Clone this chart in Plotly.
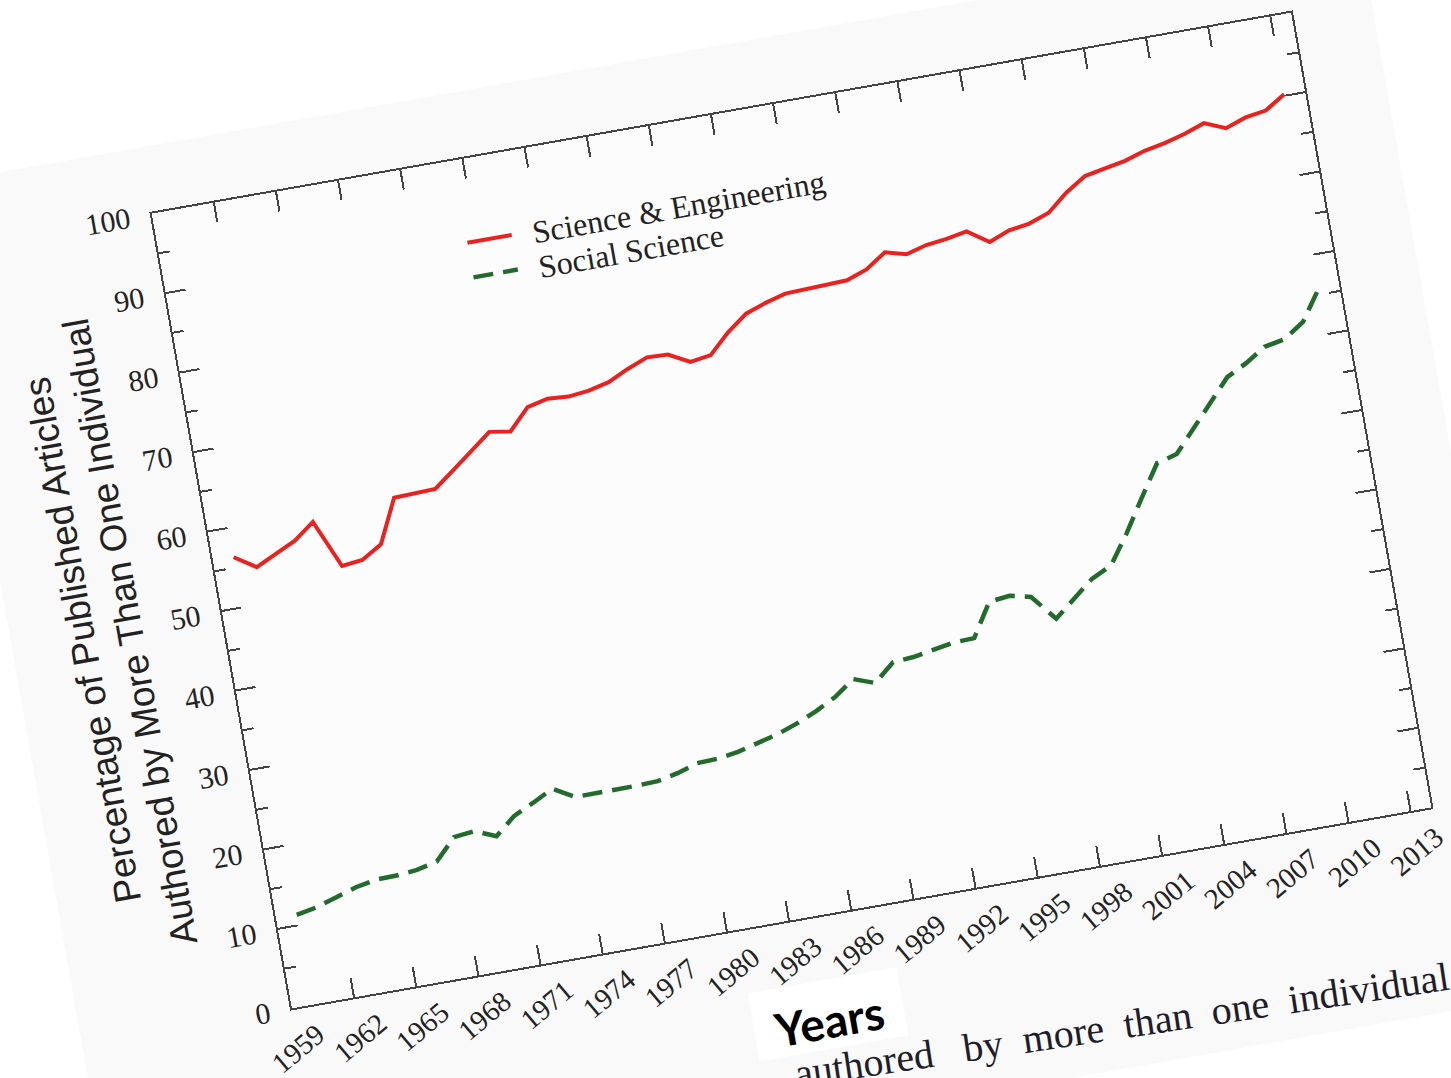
import plotly.graph_objects as go

# ---------------- data ----------------
years = [1960, 1961, 1962, 1963, 1964, 1965, 1966, 1967, 1968, 1969,
         1970, 1971, 1972, 1973, 1974, 1975, 1976, 1977, 1978, 1979,
         1980, 1981, 1982, 1983, 1984, 1985, 1986, 1987, 1988, 1989,
         1990, 1991, 1992, 1993, 1994, 1995, 1996, 1997, 1998, 1999,
         2000, 2001, 2002, 2003, 2004, 2005, 2006, 2007, 2008, 2009,
         2010, 2011, 2012, 2013]

science_engineering = [56.3, 54.6, 55.8, 57.0, 58.9, 52.9, 53.2, 54.7, 60.1, 60.2,
                       60.3, 62.2, 64.2, 66.1, 65.7, 68.3, 68.9, 68.7, 69.0, 69.6,
                       70.8, 71.8, 71.7, 70.3, 70.7, 73.1, 75.0, 75.9, 76.6, 76.7,
                       76.8, 76.9, 77.8, 79.5, 78.8, 79.5, 79.8, 80.3, 78.5, 79.5,
                       79.9, 80.8, 82.9, 84.5, 85.0, 85.5, 86.3, 86.8, 87.5, 88.4,
                       87.3, 88.2, 88.6, 90.2]

social_science = [11.3, 11.8, 12.6, 13.4, 13.9, 13.95, 14.2, 14.8, 17.4, 17.7,
                  16.6, 18.7, 19.9, 21.2, 19.7, 19.7, 19.7, 19.75, 19.85, 20.4,
                  21.2, 21.3, 21.7, 22.4, 23.0, 23.9, 25.0, 26.3, 28.1, 27.15,
                  29.3, 29.5, 29.9, 30.4, 30.5, 34.6, 34.9, 34.3, 31.1, 33.2,
                  35.2, 36.4, 40.0, 44.0, 47.9, 48.6, 51.4, 54.1, 56.9, 58.2,
                  59.8, 60.3, 62.0, 65.7]

series_names = ["Science & Engineering", "Social Science"]
x_tick_values = [1959, 1962, 1965, 1968, 1971, 1974, 1977, 1980, 1983, 1986,
                 1989, 1992, 1995, 1998, 2001, 2004, 2007, 2010, 2013]
y_tick_values = [0, 10, 20, 30, 40, 50, 60, 70, 80, 90, 100]

y_title = "Percentage of Published Articles<br>Authored by More Than One Individual"
x_box_label = "Years"
NB = "\u00a0"
caption = ("authored" + NB * 3 + "by" + NB * 2 + "more" + NB * 2 + "than"
           + NB * 2 + "one" + NB * 2 + "individual")

# ---------------- styling ----------------
RED = "#e8231f"
GREEN = "#236a2d"
AXIS = "#444444"
TXT = "#222222"
SERIF = "Liberation Serif, Times New Roman, serif"
SANS = "Liberation Sans, Arial, sans-serif"

fig = go.Figure()
fig.add_trace(go.Scatter(
    x=years, y=science_engineering, mode="lines",
    name=NB * 2 + series_names[0],
    line=dict(color=RED, width=4), legend="legend"))
fig.add_trace(go.Scatter(
    x=years, y=social_science, mode="lines",
    name=NB * 2 + series_names[1],
    line=dict(color=GREEN, width=4.5, dash="20px,10px"), legend="legend2"))

legend_common = dict(
    xanchor="left", yanchor="middle", bgcolor="rgba(0,0,0,0)", borderwidth=0,
    font=dict(family=SERIF, size=32, color=TXT), itemwidth=45,
)

fig.update_layout(
    template="none",
    width=1451, height=1078,
    margin=dict(l=213.1, r=80.9, t=67, b=204, pad=0, autoexpand=False),
    paper_bgcolor="#f9f9f9",
    plot_bgcolor="#fcfcfc",
    showlegend=True,
    legend=dict(x=0.26, y=0.8963, **legend_common),
    legend2=dict(x=0.26, y=0.8527, **legend_common),
    xaxis=dict(
        range=[1959, 2014], tickmode="array", tickvals=x_tick_values,
        ticktext=[str(v) for v in x_tick_values],
        ticks="inside", ticklen=20, tickwidth=2, tickcolor=AXIS,
        showline=True, linewidth=2, linecolor=AXIS, mirror="ticks",
        showgrid=False, zeroline=False, automargin=False,
        tickangle=-30, ticklabelstandoff=0, ticklabelshift=22,
        tickfont=dict(family=SERIF, size=29, color=TXT),
    ),
    yaxis=dict(
        range=[0, 100], tickmode="array", tickvals=y_tick_values,
        ticks="inside", ticklen=20, tickwidth=2, tickcolor=AXIS,
        minor=dict(dtick=5, tick0=0, ticks="inside", ticklen=11,
                   tickwidth=2, tickcolor=AXIS, showgrid=False),
        showline=True, linewidth=2, linecolor=AXIS, mirror="ticks",
        showgrid=False, zeroline=False, automargin=False,
        ticklabelstandoff=14,
        tickfont=dict(family=SERIF, size=30, color=TXT),
    ),
    annotations=[
        dict(text=y_title, xref="paper", yref="paper", x=0, y=0.5,
             xshift=-118, yshift=-5, textangle=-90, showarrow=False,
             xanchor="center", yanchor="middle", align="center",
             font=dict(family=SANS, size=37, color=TXT)),
        dict(text=caption, xref="paper", yref="paper", x=0.416, y=-0.199,
             xanchor="left", yanchor="middle", textangle=1.5, showarrow=False,
             font=dict(family=SERIF, size=40, color="#1d1d2b")),
        dict(text="<b>" + x_box_label + "</b>", xref="paper", yref="paper",
             x=0.4553, y=-0.1221, xanchor="center", yanchor="middle",
             showarrow=False, bgcolor="#ffffff", width=150, height=68,
             borderpad=0, valign="bottom",
             font=dict(family="Lato, Open Sans, sans-serif", size=46,
                       color="#000000")),
    ],
)

# The reference is a photograph of a page turned by about 10 degrees;
# turn the whole rendered figure the same way.
post_script = """
var gd = document.getElementById('{plot_id}');
document.documentElement.style.overflow = 'hidden';
document.body.style.margin = '0';
document.body.style.overflow = 'hidden';
document.body.style.background = '#ffffff';
gd.style.transformOrigin = '791.6px 510.5px';
gd.style.transform = 'translate(6.94px, 39.39px) rotate(-10deg)';
"""

fig.write_html("out.html", include_plotlyjs=True, full_html=True,
               post_script=post_script, config={"displayModeBar": False})
